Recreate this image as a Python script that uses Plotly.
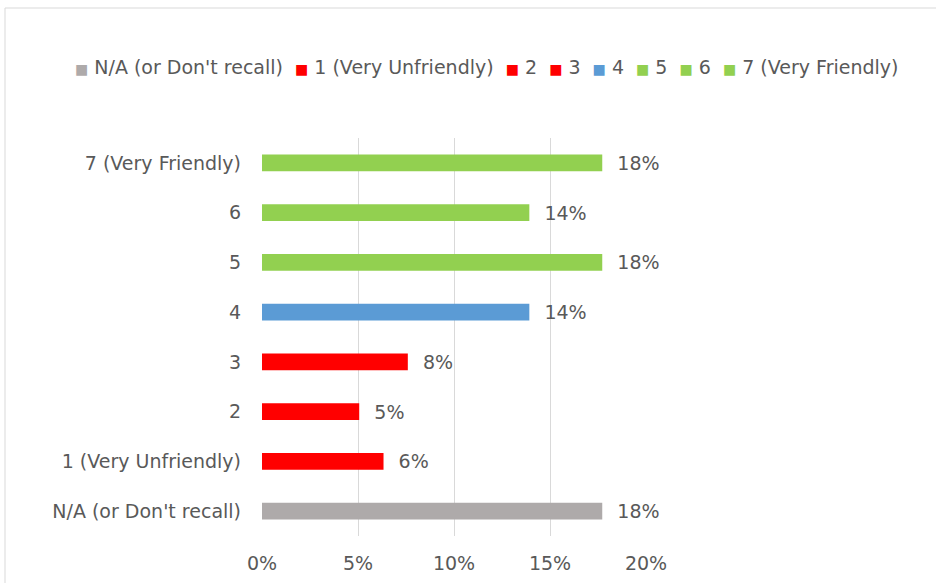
import plotly.graph_objects as go

categories = ["N/A (or Don't recall)", "1 (Very Unfriendly)", "2", "3", "4", "5", "6", "7 (Very Friendly)"]
counts = [14, 5, 4, 6, 11, 14, 11, 14]
total = 79
values = [c / total for c in counts]
colors = ["#AEAAAA", "#FF0000", "#FF0000", "#FF0000", "#5B9BD5", "#92D050", "#92D050", "#92D050"]
x_ticks = [0, 0.05, 0.10, 0.15, 0.20]
x_tick_labels = ["0%", "5%", "10%", "15%", "20%"]

FONT = "DejaVu Sans, sans-serif"
FS = 19
TXT = "#595959"

W, H = 936, 583
fig = go.Figure()
for cat, val, col in zip(categories, values, colors):
    fig.add_trace(go.Bar(
        y=[cat], x=[val], name=cat, orientation="h",
        marker=dict(color=col, line=dict(width=0)),
        width=0.34,
        texttemplate="\u00a0\u00a0%{x:.0%}", textposition="outside",
        constraintext="none",
        textfont=dict(family=FONT, size=FS, color=TXT),
        cliponaxis=False, showlegend=False,
    ))

# compact legend drawn as one line of text, built from the categories and colours
legend_text = "\u00a0 ".join(
    f"<span style='color:{c};font-size:14px'>\u25A0</span>\u00a0{cat}" for cat, c in zip(categories, colors)
)

fig.update_layout(
    width=W, height=H,
    margin=dict(l=0, r=0, t=0, b=0, autoexpand=False),
    paper_bgcolor="white", plot_bgcolor="white",
    barmode="relative",
    font=dict(family=FONT, size=FS, color=TXT),
    showlegend=False,
    xaxis=dict(domain=[262 / W, 646 / W], range=[0, 0.2], tickvals=x_ticks, ticktext=x_tick_labels,
               showgrid=True, gridcolor="#D9D9D9", gridwidth=1,
               zeroline=False, showline=False, ticks="",
               ticklabelstandoff=14, automargin=False,
               tickfont=dict(family=FONT, size=FS, color=TXT)),
    yaxis=dict(domain=[47 / H, 445 / H], type="category", categoryorder="array", categoryarray=categories,
               showgrid=False, zeroline=False, showline=False, ticks="",
               ticklabelstandoff=20, automargin=False,
               tickfont=dict(family=FONT, size=FS, color=TXT)),
    annotations=[dict(text=legend_text, xref="paper", yref="paper",
                      x=486 / W, y=1 - 67 / H, xanchor="center", yanchor="middle",
                      showarrow=False, font=dict(family=FONT, size=FS, color=TXT))],
    shapes=[dict(type="rect", xref="paper", yref="paper",
                 x0=5 / W, x1=1.02, y0=-0.05, y1=1 - 8 / H,
                 line=dict(color="#D9D9D9", width=1), fillcolor="rgba(0,0,0,0)",
                 layer="below")],
)

fig.write_html("out.html", config={"displayModeBar": False},
               post_script="document.body.style.margin='0';")
